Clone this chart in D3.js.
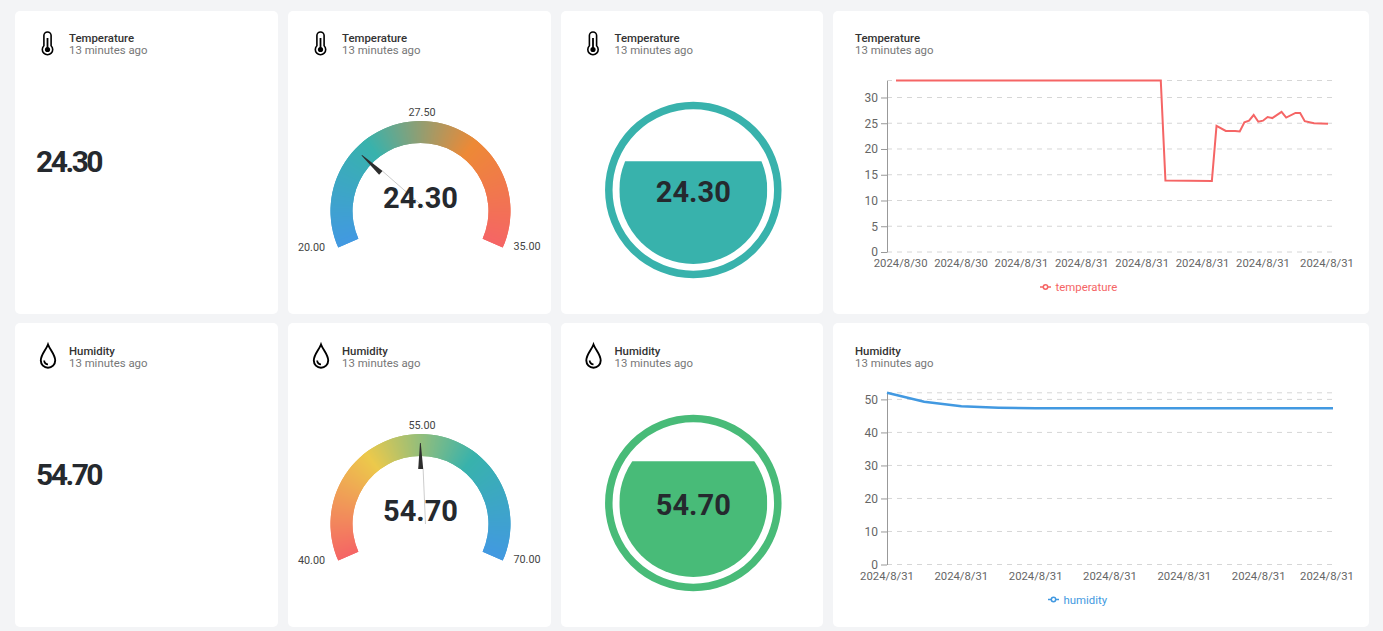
<!DOCTYPE html>
<html>
<head>
<meta charset="utf-8">
<script src="https://cdn.jsdelivr.net/npm/d3@7"></script>
<style>
  html, body { margin: 0; padding: 0; background: #f3f4f6; overflow: hidden; }
  svg { display: block; }
  text { font-family: Roboto, sans-serif; }
</style>
</head>
<body>
<div id="chart"></div>
<script>
const SUBTITLE = '13 minutes ago';
const temperatureValue = 24.3;
const humidityValue = 54.7;

const temperatureRange = [20, 35];
const humidityRange = [40, 70];
const temperatureColors = ['#4299e1', '#38b2ac', '#ed8936', '#f56565'];
const humidityColors = ['#f56565', '#ecc94b', '#38b2ac', '#4299e1'];

// sample number and reading, only where the line visibly changes direction
const temperatureSamples = [0, 57, 58, 68, 69, 71, 73, 74, 75, 76, 77, 78, 79, 80, 81, 83, 84, 86, 87, 88, 90, 93];
const temperatureSeries = [33.3, 33.3, 13.9, 13.8, 24.5, 23.5, 23.5, 23.4, 25.2, 25.5, 26.6, 25.3, 25.5, 26.2, 26.0, 27.2, 26.1, 27.0, 27.0, 25.4, 25.0, 24.9];
const temperatureTicks = [1, 14, 27, 40, 53, 66, 79, 93];
const temperatureTickLabels = ['2024/8/30', '2024/8/30', '2024/8/31', '2024/8/31', '2024/8/31', '2024/8/31', '2024/8/31', '2024/8/31'];

const humiditySamples = [0, 1, 2, 3, 4, 5, 6, 7, 8, 9, 10, 11, 12];
const humiditySeries = [52.0, 49.3, 47.9, 47.5, 47.3, 47.3, 47.3, 47.3, 47.3, 47.3, 47.3, 47.3, 47.3];
const humidityTicks = [0, 2, 4, 6, 8, 10, 12];
const humidityTickLabels = ['2024/8/31', '2024/8/31', '2024/8/31', '2024/8/31', '2024/8/31', '2024/8/31', '2024/8/31'];

const WIDTH = 1383;
const HEIGHT = 631;
const TITLE_COLOR = '#333';
const TEXT_COLOR = '#25292e';
const MUTED_COLOR = '#777';
const SMALL_FONT = 11.4;
const TICK_FONT = 11.3;
const SWEEP = 114;
const NEEDLE_OFFSET = 2.4;
const RAD = Math.PI / 180;

const svg = d3.select('#chart').append('svg').attr('width', WIDTH).attr('height', HEIGHT);

function drawIcon(g, kind, x, y) {
  const icon = g.append('g').attr('fill', 'none').attr('stroke', '#000');
  if (kind === 'Temperature') {
    icon.attr('transform', `translate(${x + 0.5},${y})`);
    icon.append('path')
      .attr('stroke-width', 1.6)
      .attr('d', 'M-3.6,-8.4 a3.6,3.6 0 0 1 7.2,0 V1.75 a5.2,5.2 0 1 1 -7.2,0 Z');
    icon.append('line').attr('x1', 0).attr('x2', 0).attr('y1', -6).attr('y2', 5).attr('stroke-width', 1.8);
    icon.append('circle').attr('cx', 0).attr('cy', 5.5).attr('r', 2.6).attr('fill', '#000').attr('stroke', 'none');
  } else {
    icon.attr('transform', `translate(${x + 1},${y})`);
    icon.append('path')
      .attr('stroke-width', 1.9)
      .attr('d', 'M0,-12.5 C2,-7 7.2,-2.5 7.2,3.5 A7.2,7.2 0 0 1 -7.2,3.5 C-7.2,-2.5 -2,-7 0,-12.5 Z');
    icon.append('path')
      .attr('stroke-width', 1.8)
      .attr('d', 'M-3.8,3.5 A3.8,3.8 0 0 0 0,7.4');
  }
}

function drawCard(x, y, width, title, iconX) {
  const g = svg.append('g');
  // the lower row of cards starts a pixel higher than its contents suggest
  const top = y > 100 ? y - 1 : y;
  g.append('rect')
    .attr('x', x).attr('y', top)
    .attr('width', width).attr('height', y + 303 - top)
    .attr('rx', 5)
    .attr('fill', '#fff');
  const textX = iconX === null ? x + 22 : iconX + 22;
  if (iconX !== null) drawIcon(g, title, iconX, y + 33);
  g.append('text')
    .attr('x', textX).attr('y', y + 31)
    .attr('font-size', SMALL_FONT).attr('font-weight', 500)
    .attr('fill', TITLE_COLOR)
    .text(title);
  g.append('text')
    .attr('x', textX).attr('y', y + 43)
    .attr('font-size', SMALL_FONT)
    .attr('fill', MUTED_COLOR)
    .text(SUBTITLE);
  return g;
}

function drawPlain(g, value, x, y) {
  g.append('text')
    .attr('x', x).attr('y', y)
    .attr('font-size', 30).attr('font-weight', 700)
    .attr('letter-spacing', -2.5)
    .attr('fill', TEXT_COLOR)
    .text(value.toFixed(2));
}

let clipCount = 0;

function drawGauge(g, value, range, colors, cx, cy) {
  const outer = 90;
  const inner = 68;
  const angle = d3.scaleLinear().domain(range).range([-SWEEP, SWEEP]);
  const color = d3.scaleLinear()
    .domain(colors.map((c, i) => i / (colors.length - 1)))
    .range(colors);
  const gauge = g.append('g').attr('transform', `translate(${cx},${cy})`);
  const clipId = 'gauge' + clipCount++;

  gauge.append('clipPath').attr('id', clipId)
    .append('path')
    .attr('d', d3.arc().innerRadius(inner).outerRadius(outer)({
      startAngle: -SWEEP * RAD,
      endAngle: SWEEP * RAD
    }));

  // conic gradient: crisp wedges, the clip gives the smooth edge
  const wedge = d3.arc().innerRadius(inner - 3).outerRadius(outer + 3);
  const steps = d3.range(-1, SWEEP * 2 + 1, 0.5);
  gauge.append('g').attr('clip-path', `url(#${clipId})`)
    .selectAll('path')
    .data(steps)
    .enter()
    .append('path')
    .attr('shape-rendering', 'crispEdges')
    .attr('fill', d => color(Math.max(0, Math.min(1, d / (SWEEP * 2)))))
    .attr('d', d => wedge({
      startAngle: (-SWEEP + d) * RAD,
      endAngle: (-SWEEP + d + 1) * RAD
    }));

  const a = (angle(value) + NEEDLE_OFFSET) * RAD;
  const ux = Math.sin(a);
  const uy = -Math.cos(a);
  const px = Math.cos(a);
  const py = Math.sin(a);
  gauge.append('line')
    .attr('x1', 55 * ux + 2.5 * px).attr('y1', 55 * uy + 2.5 * py)
    .attr('x2', 5 * px).attr('y2', 5 * py)
    .attr('stroke', '#ccc').attr('stroke-width', 1);
  gauge.append('path')
    .attr('fill', '#2d2d2d')
    .attr('d', d3.line()([
      [81 * ux - 0.7 * px, 81 * uy - 0.7 * py],
      [81 * ux + 0.1 * px, 81 * uy + 0.1 * py],
      [55 * ux + 2.6 * px, 55 * uy + 2.6 * py],
      [55 * ux - 2.4 * px, 55 * uy - 2.4 * py]
    ]) + 'Z');

  const labels = [
    { v: range[0], x: -109, y: 39.5 },
    { v: (range[0] + range[1]) / 2, x: 1.5, y: -95 },
    { v: range[1], x: 106.5, y: 39 }
  ];
  gauge.selectAll('text.limit')
    .data(labels)
    .enter()
    .append('text')
    .attr('class', 'limit')
    .attr('x', d => d.x).attr('y', d => d.y)
    .attr('text-anchor', 'middle')
    .attr('font-size', 10.8)
    .attr('fill', '#444')
    .text(d => d.v.toFixed(2));

  gauge.append('text')
    .attr('x', 0).attr('y', -3)
    .attr('text-anchor', 'middle')
    .attr('font-size', 29).attr('font-weight', 700)
    .attr('fill', TEXT_COLOR)
    .text(value.toFixed(2));
}

function drawLiquid(g, value, max, fill, cx, cy) {
  const radius = 74;
  const level = d3.scaleLinear().domain([0, max]).range([radius, -radius]);
  const liquid = g.append('g').attr('transform', `translate(${cx},${cy})`);
  const clipId = 'liquid' + clipCount++;

  liquid.append('clipPath').attr('id', clipId)
    .append('rect')
    .attr('x', -radius).attr('y', level(value))
    .attr('width', radius * 2).attr('height', radius - level(value));
  liquid.append('circle')
    .attr('r', 84.5)
    .attr('fill', 'none')
    .attr('stroke', fill).attr('stroke-width', 7.5);
  liquid.append('circle')
    .attr('r', radius)
    .attr('fill', fill)
    .attr('clip-path', `url(#${clipId})`);
  liquid.append('text')
    .attr('x', 0).attr('y', 12)
    .attr('text-anchor', 'middle')
    .attr('font-size', 29).attr('font-weight', 700)
    .attr('fill', TEXT_COLOR)
    .text(value.toFixed(2));
}

function drawLine(g, opts) {
  const x = d3.scaleLinear()
    .domain([0, d3.max(opts.samples)])
    .range(opts.xRange);
  const yMax = d3.max(opts.series);
  const y = d3.scaleLinear().domain([0, yMax]).range(opts.yRange);
  const AXIS_X = 887;
  const GRID_END = 1333;
  const LABEL_LIMIT = 1354;

  const gridValues = y.ticks(opts.tickCount).concat(yMax);
  g.append('g').selectAll('line')
    .data(gridValues)
    .enter()
    .append('line')
    .attr('x1', AXIS_X).attr('x2', GRID_END)
    .attr('y1', d => y(d)).attr('y2', d => y(d))
    .attr('stroke', '#d6d6d6')
    .attr('stroke-dasharray', '5 5');

  const yAxis = d3.axisLeft(y).ticks(opts.tickCount).tickSize(6).tickPadding(3).tickSizeOuter(0);
  const yAxisG = g.append('g').attr('transform', `translate(${AXIS_X},0)`).call(yAxis);
  yAxisG.selectAll('path, line').attr('stroke', '#999');
  yAxisG.selectAll('text')
    .attr('font-family', 'Roboto, sans-serif')
    .attr('font-size', 12)
    .attr('fill', '#666');

  g.append('g').selectAll('text')
    .data(opts.ticks)
    .enter()
    .append('text')
    .attr('x', d => Math.min(x(d), LABEL_LIMIT - 27))
    .attr('y', opts.yRange[0] + 15)
    .attr('text-anchor', 'middle')
    .attr('font-size', TICK_FONT)
    .attr('fill', '#666')
    .text((d, i) => opts.tickLabels[i]);

  g.append('path')
    .datum(opts.samples)
    .attr('fill', 'none')
    .attr('stroke', opts.color).attr('stroke-width', opts.lineWidth)
    .attr('d', d3.line().x(d => x(d)).y((d, i) => y(opts.series[i])));

  const legend = g.append('g').attr('transform', `translate(${opts.legendX},${opts.yRange[0] + 35})`);
  legend.append('line')
    .attr('x1', 0).attr('x2', 11)
    .attr('stroke', opts.color).attr('stroke-width', 1.5);
  legend.append('circle')
    .attr('cx', 5.5).attr('r', 2.2)
    .attr('fill', '#fff')
    .attr('stroke', opts.color).attr('stroke-width', 1.5);
  legend.append('text')
    .attr('x', 15.5).attr('y', 4)
    .attr('font-size', SMALL_FONT)
    .attr('fill', opts.color)
    .text(opts.name);
}

// top row
const temperature = 'Temperature';
drawPlain(drawCard(15, 11, 263, temperature, 47), temperatureValue, 36, 171.5);
drawGauge(drawCard(288, 11, 263, temperature, 320), temperatureValue, temperatureRange, temperatureColors, 420.5, 211);
drawLiquid(drawCard(561, 11, 262, temperature, 592.5), temperatureValue, temperatureRange[1], '#38b2ac', 693.3, 190);
drawLine(drawCard(833, 11, 536, temperature, null), {
  samples: temperatureSamples,
  series: temperatureSeries,
  ticks: temperatureTicks,
  tickLabels: temperatureTickLabels,
  xRange: [896, 1328],
  yRange: [252, 80.5],
  tickCount: 7,
  color: '#f56565',
  lineWidth: 2,
  legendX: 1040,
  name: 'temperature'
});

// bottom row
const humidity = 'Humidity';
drawPlain(drawCard(15, 324, 263, humidity, 47), humidityValue, 36, 484.5);
drawGauge(drawCard(288, 324, 263, humidity, 320), humidityValue, humidityRange, humidityColors, 420.5, 524);
drawLiquid(drawCard(561, 324, 262, humidity, 592.5), humidityValue, humidityRange[1], '#48bb78', 693.3, 503);
drawLine(drawCard(833, 324, 536, humidity, null), {
  samples: humiditySamples,
  series: humiditySeries,
  ticks: humidityTicks,
  tickLabels: humidityTickLabels,
  xRange: [887, 1333],
  yRange: [564.5, 392.8],
  tickCount: 6,
  color: '#4299e1',
  lineWidth: 2.5,
  legendX: 1048,
  name: 'humidity'
});
</script>
</body>
</html>
